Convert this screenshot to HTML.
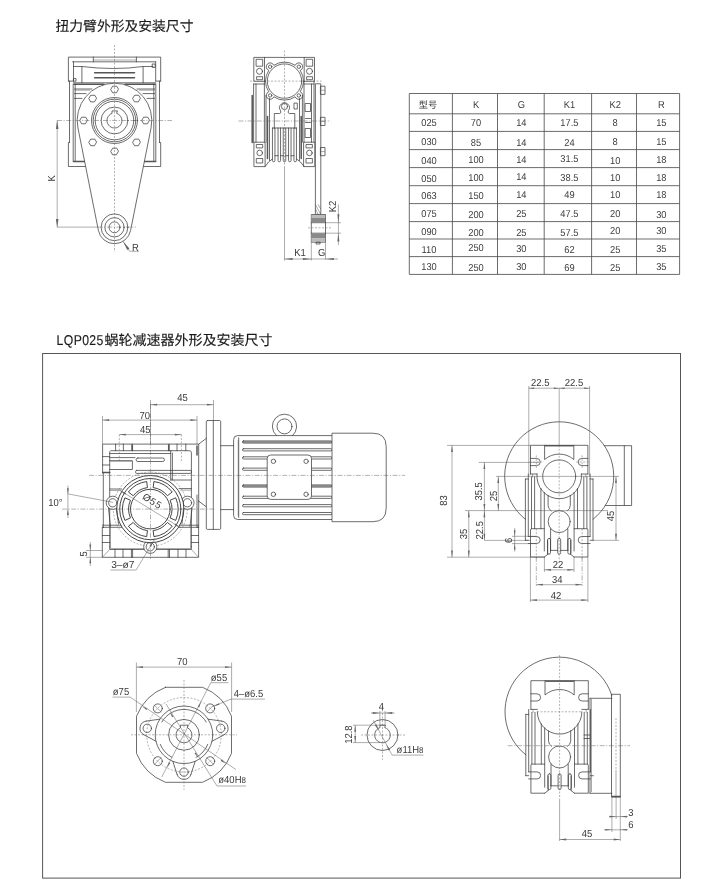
<!DOCTYPE html>
<html lang="zh"><head><meta charset="utf-8"><title>LQP025 蜗轮减速器外形及安装尺寸</title>
<style>
html,body{margin:0;padding:0;background:#fff;}
body{width:715px;height:891px;overflow:hidden;position:relative;}
svg{display:block;position:absolute;left:0;top:0;will-change:transform;transform:translateZ(0);}
text{font-family:"Liberation Sans","Noto Sans CJK SC",sans-serif;text-rendering:geometricPrecision;}
.ti{fill:#1a1a1a;stroke:#1a1a1a;stroke-width:0.15;font-family:"Liberation Sans","Noto Sans CJK SC",sans-serif;font-weight:400;}
.tt{fill:#3c3c3c;}
.dt{fill:#3a3a3a;}
.fr{fill:none;stroke:#555;stroke-width:1;}
.tb{stroke:#505050;stroke-width:0.85;fill:none;}
.o{fill:none;stroke:#3c3c3c;stroke-width:0.75;stroke-linejoin:round;stroke-linecap:round;}
.w{fill:#fff;stroke:#3c3c3c;stroke-width:0.75;stroke-linejoin:round;}
.sl{fill:none;stroke:#3c3c3c;stroke-width:0.75;stroke-linejoin:round;}
.k2{fill:none;stroke:#444;stroke-width:1.2;}
.h2{fill:none;stroke:none;}
.o2{stroke-width:0.95;}
.k{fill:none;stroke:#555;stroke-width:1.5;stroke-linecap:round;}
.t{fill:none;stroke:#555;stroke-width:0.5;}
.c{fill:none;stroke:#666;stroke-width:0.5;stroke-dasharray:5 1.5 1.2 1.5;}
.h{fill:none;stroke:#666;stroke-width:0.5;stroke-dasharray:2 1.5;}
.d{fill:none;stroke:#5a5a5a;stroke-width:0.5;}
.ah{fill:#666;stroke:none;}
.g{fill:#999;stroke:none;}
</style></head><body>
<svg width="715" height="891" viewBox="0 0 715 891">
<rect x="0" y="0" width="715" height="891" fill="#fff"/>
<g id="text-and-table">
<text class="ti" x="55.5" y="31.4" font-size="13.8">扭力臂外形及安装尺寸</text>
<text class="ti" transform="translate(56.6 345) scale(0.86 1)" font-size="14.2" letter-spacing="0.45">LQP025</text>
<text class="ti" x="104.6" y="345.2" font-size="14">蜗轮减速器外形及安装尺寸</text>
<rect class="fr" x="42.6" y="353.5" width="637.9" height="524.6"/>
<line class="tb" x1="409.3" y1="93.5" x2="409.3" y2="274.4"/>
<line class="tb" x1="452.4" y1="93.5" x2="452.4" y2="274.4"/>
<line class="tb" x1="497.5" y1="93.5" x2="497.5" y2="274.4"/>
<line class="tb" x1="544.2" y1="93.5" x2="544.2" y2="274.4"/>
<line class="tb" x1="591.6" y1="93.5" x2="591.6" y2="274.4"/>
<line class="tb" x1="636.5" y1="93.5" x2="636.5" y2="274.4"/>
<line class="tb" x1="679.6" y1="93.5" x2="679.6" y2="274.4"/>
<line class="tb" x1="409.3" y1="93.5" x2="679.6" y2="93.5"/>
<line class="tb" x1="409.3" y1="113.8" x2="679.6" y2="113.8"/>
<line class="tb" x1="409.3" y1="131.4" x2="679.6" y2="131.4"/>
<line class="tb" x1="409.3" y1="149.6" x2="679.6" y2="149.6"/>
<line class="tb" x1="409.3" y1="167.6" x2="679.6" y2="167.6"/>
<line class="tb" x1="409.3" y1="185.7" x2="679.6" y2="185.7"/>
<line class="tb" x1="409.3" y1="203.6" x2="679.6" y2="203.6"/>
<line class="tb" x1="409.3" y1="221.6" x2="679.6" y2="221.6"/>
<line class="tb" x1="409.3" y1="239" x2="679.6" y2="239"/>
<line class="tb" x1="409.3" y1="256.6" x2="679.6" y2="256.6"/>
<line class="tb" x1="409.3" y1="274.4" x2="679.6" y2="274.4"/>
<text class="tt" transform="translate(428 108.3)" font-size="9.2" text-anchor="middle">型号</text>
<text class="tt" transform="translate(476 108) scale(0.93 1)" font-size="10" text-anchor="middle">K</text>
<text class="tt" transform="translate(521.3 108) scale(0.93 1)" font-size="10" text-anchor="middle">G</text>
<text class="tt" transform="translate(569.4 108) scale(0.93 1)" font-size="10" text-anchor="middle">K1</text>
<text class="tt" transform="translate(615.2 108) scale(0.93 1)" font-size="10" text-anchor="middle">K2</text>
<text class="tt" transform="translate(661.3 108) scale(0.93 1)" font-size="10" text-anchor="middle">R</text>
<text class="tt" transform="translate(429 126.2) scale(0.93 1)" font-size="10" text-anchor="middle">025</text>
<text class="tt" transform="translate(476 126.2) scale(0.93 1)" font-size="10" text-anchor="middle">70</text>
<text class="tt" transform="translate(521.3 126.2) scale(0.93 1)" font-size="10" text-anchor="middle">14</text>
<text class="tt" transform="translate(569.4 126.2) scale(0.93 1)" font-size="10" text-anchor="middle">17.5</text>
<text class="tt" transform="translate(615.2 126.2) scale(0.93 1)" font-size="10" text-anchor="middle">8</text>
<text class="tt" transform="translate(661.3 126.2) scale(0.93 1)" font-size="10" text-anchor="middle">15</text>
<text class="tt" transform="translate(429 145.4) scale(0.93 1)" font-size="10" text-anchor="middle">030</text>
<text class="tt" transform="translate(476 146.2) scale(0.93 1)" font-size="10" text-anchor="middle">85</text>
<text class="tt" transform="translate(521.3 145.8) scale(0.93 1)" font-size="10" text-anchor="middle">14</text>
<text class="tt" transform="translate(569.4 145.8) scale(0.93 1)" font-size="10" text-anchor="middle">24</text>
<text class="tt" transform="translate(615.2 145.4) scale(0.93 1)" font-size="10" text-anchor="middle">8</text>
<text class="tt" transform="translate(661.3 145.4) scale(0.93 1)" font-size="10" text-anchor="middle">15</text>
<text class="tt" transform="translate(429 163.7) scale(0.93 1)" font-size="10" text-anchor="middle">040</text>
<text class="tt" transform="translate(476 163.3) scale(0.93 1)" font-size="10" text-anchor="middle">100</text>
<text class="tt" transform="translate(521.3 163.3) scale(0.93 1)" font-size="10" text-anchor="middle">14</text>
<text class="tt" transform="translate(569.4 162.3) scale(0.93 1)" font-size="10" text-anchor="middle">31.5</text>
<text class="tt" transform="translate(615.2 163.7) scale(0.93 1)" font-size="10" text-anchor="middle">10</text>
<text class="tt" transform="translate(661.3 163.3) scale(0.93 1)" font-size="10" text-anchor="middle">18</text>
<text class="tt" transform="translate(429 181.5) scale(0.93 1)" font-size="10" text-anchor="middle">050</text>
<text class="tt" transform="translate(476 180.9) scale(0.93 1)" font-size="10" text-anchor="middle">100</text>
<text class="tt" transform="translate(521.3 180.3) scale(0.93 1)" font-size="10" text-anchor="middle">14</text>
<text class="tt" transform="translate(569.4 180.5) scale(0.93 1)" font-size="10" text-anchor="middle">38.5</text>
<text class="tt" transform="translate(615.2 181.3) scale(0.93 1)" font-size="10" text-anchor="middle">10</text>
<text class="tt" transform="translate(661.3 181.3) scale(0.93 1)" font-size="10" text-anchor="middle">18</text>
<text class="tt" transform="translate(429 198.9) scale(0.93 1)" font-size="10" text-anchor="middle">063</text>
<text class="tt" transform="translate(476 198.9) scale(0.93 1)" font-size="10" text-anchor="middle">150</text>
<text class="tt" transform="translate(521.3 197.8) scale(0.93 1)" font-size="10" text-anchor="middle">14</text>
<text class="tt" transform="translate(569.4 197.8) scale(0.93 1)" font-size="10" text-anchor="middle">49</text>
<text class="tt" transform="translate(615.2 198.2) scale(0.93 1)" font-size="10" text-anchor="middle">10</text>
<text class="tt" transform="translate(661.3 197.8) scale(0.93 1)" font-size="10" text-anchor="middle">18</text>
<text class="tt" transform="translate(429 217.1) scale(0.93 1)" font-size="10" text-anchor="middle">075</text>
<text class="tt" transform="translate(476 217.5) scale(0.93 1)" font-size="10" text-anchor="middle">200</text>
<text class="tt" transform="translate(521.3 217.1) scale(0.93 1)" font-size="10" text-anchor="middle">25</text>
<text class="tt" transform="translate(569.4 216.5) scale(0.93 1)" font-size="10" text-anchor="middle">47.5</text>
<text class="tt" transform="translate(615.2 216.5) scale(0.93 1)" font-size="10" text-anchor="middle">20</text>
<text class="tt" transform="translate(661.3 217.5) scale(0.93 1)" font-size="10" text-anchor="middle">30</text>
<text class="tt" transform="translate(429 234.8) scale(0.93 1)" font-size="10" text-anchor="middle">090</text>
<text class="tt" transform="translate(476 236) scale(0.93 1)" font-size="10" text-anchor="middle">200</text>
<text class="tt" transform="translate(521.3 235.8) scale(0.93 1)" font-size="10" text-anchor="middle">25</text>
<text class="tt" transform="translate(569.4 236) scale(0.93 1)" font-size="10" text-anchor="middle">57.5</text>
<text class="tt" transform="translate(615.2 234.4) scale(0.93 1)" font-size="10" text-anchor="middle">20</text>
<text class="tt" transform="translate(661.3 234.4) scale(0.93 1)" font-size="10" text-anchor="middle">30</text>
<text class="tt" transform="translate(429 252.6) scale(0.93 1)" font-size="10" text-anchor="middle">110</text>
<text class="tt" transform="translate(476 251) scale(0.93 1)" font-size="10" text-anchor="middle">250</text>
<text class="tt" transform="translate(521.3 252) scale(0.93 1)" font-size="10" text-anchor="middle">30</text>
<text class="tt" transform="translate(569.4 252.6) scale(0.93 1)" font-size="10" text-anchor="middle">62</text>
<text class="tt" transform="translate(615.2 252.6) scale(0.93 1)" font-size="10" text-anchor="middle">25</text>
<text class="tt" transform="translate(661.3 251.6) scale(0.93 1)" font-size="10" text-anchor="middle">35</text>
<text class="tt" transform="translate(429 270.2) scale(0.93 1)" font-size="10" text-anchor="middle">130</text>
<text class="tt" transform="translate(476 270.6) scale(0.93 1)" font-size="10" text-anchor="middle">250</text>
<text class="tt" transform="translate(521.3 269.8) scale(0.93 1)" font-size="10" text-anchor="middle">30</text>
<text class="tt" transform="translate(569.4 270.6) scale(0.93 1)" font-size="10" text-anchor="middle">69</text>
<text class="tt" transform="translate(615.2 270.6) scale(0.93 1)" font-size="10" text-anchor="middle">25</text>
<text class="tt" transform="translate(661.3 269.8) scale(0.93 1)" font-size="10" text-anchor="middle">35</text>
</g>
<g id="drawing-a">
<path class="o" d="M68.4 81.1 L68.4 57.1 L160.7 57.1 L160.7 81.1"/>
<path class="o" d="M93.3 57.1 L93.3 61.8"/>
<path class="o" d="M136.4 57.1 L136.4 61.8"/>
<line class="o" x1="72.6" y1="61.8" x2="155.7" y2="61.8"/>
<line class="t" x1="93.3" y1="60" x2="136.4" y2="60"/>
<line class="o" x1="73.5" y1="61.8" x2="73.5" y2="81.1"/>
<line class="o" x1="155.7" y1="61.8" x2="155.7" y2="81.1"/>
<line class="o" x1="68.4" y1="81.1" x2="73.5" y2="81.1"/>
<line class="o" x1="155.7" y1="81.1" x2="160.7" y2="81.1"/>
<path class="o" d="M73.5 66.5 L81.9 66.5 Q114.5 70.5 143.1 66.5 L153 66.5"/>
<line class="o" x1="81.9" y1="66.5" x2="81.9" y2="82.8"/>
<line class="o" x1="143.1" y1="66.5" x2="143.1" y2="82.8"/>
<rect class="o" x="152.6" y="64" width="2.6" height="3.4"/>
<rect class="o" x="73.8" y="78.6" width="2.2" height="2.6"/>
<line class="k" x1="94.6" y1="72.7" x2="134.5" y2="72.7"/>
<line class="k" x1="94.6" y1="77.7" x2="134.5" y2="77.7"/>
<line class="o" x1="73.5" y1="82.8" x2="155.7" y2="82.8"/>
<line class="k" x1="74" y1="84.2" x2="104" y2="84.2"/>
<line class="k" x1="125" y1="84.2" x2="155" y2="84.2"/>
<line class="o" x1="69.5" y1="81.1" x2="69.5" y2="142.5"/>
<line class="o" x1="159.5" y1="81.1" x2="159.5" y2="142.5"/>
<line class="o" x1="73.2" y1="84" x2="73.2" y2="161"/>
<line class="o" x1="75.2" y1="84" x2="75.2" y2="161"/>
<line class="o" x1="155.8" y1="84" x2="155.8" y2="161"/>
<line class="o" x1="153.8" y1="84" x2="153.8" y2="161"/>
<line class="o" x1="74.5" y1="89" x2="92" y2="89"/>
<line class="o" x1="154.6" y1="89" x2="137" y2="89"/>
<line class="o" x1="74.5" y1="93.6" x2="86" y2="93.6"/>
<line class="o" x1="154.6" y1="93.6" x2="143" y2="93.6"/>
<line class="o" x1="74.5" y1="98.4" x2="82" y2="98.4"/>
<line class="o" x1="154.6" y1="98.4" x2="147" y2="98.4"/>
<line class="t" x1="74.5" y1="90.2" x2="90" y2="90.2"/>
<line class="t" x1="154.6" y1="90.2" x2="139" y2="90.2"/>
<path class="o" d="M69.5 142.5 L68.4 142.5 L68.4 166.5 L86 166.5"/>
<path class="o" d="M159.5 142.5 L160.7 142.5 L160.7 166.5 L143 166.5"/>
<line class="k" x1="73.5" y1="161.6" x2="85" y2="161.6"/>
<line class="k" x1="155.7" y1="161.6" x2="144" y2="161.6"/>
<path class="w" d="M77.92 127.8 A37.3 37.3 0 1 1 151.08 127.8 L130.58 230.51 A16.4 16.4 0 0 1 98.42 230.51 Z"/>
<path class="o" d="M149.3 120.5 L147.4 123.79 L143.6 123.79 L141.7 120.5 L143.6 117.21 L147.4 117.21 Z"/>
<path class="o" d="M140.22 142.42 L138.32 145.71 L134.52 145.71 L132.62 142.42 L134.52 139.13 L138.32 139.13 Z"/>
<path class="o" d="M118.3 151.5 L116.4 154.79 L112.6 154.79 L110.7 151.5 L112.6 148.21 L116.4 148.21 Z"/>
<path class="o" d="M96.38 142.42 L94.48 145.71 L90.68 145.71 L88.78 142.42 L90.68 139.13 L94.48 139.13 Z"/>
<path class="o" d="M87.3 120.5 L85.4 123.79 L81.6 123.79 L79.7 120.5 L81.6 117.21 L85.4 117.21 Z"/>
<path class="o" d="M96.38 98.58 L94.48 101.87 L90.68 101.87 L88.78 98.58 L90.68 95.29 L94.48 95.29 Z"/>
<path class="o" d="M118.3 89.5 L116.4 92.79 L112.6 92.79 L110.7 89.5 L112.6 86.21 L116.4 86.21 Z"/>
<path class="o" d="M140.22 98.58 L138.32 101.87 L134.52 101.87 L132.62 98.58 L134.52 95.29 L138.32 95.29 Z"/>
<circle class="o" cx="114.5" cy="120.5" r="23"/>
<circle class="o" cx="114.5" cy="120.5" r="21.3"/>
<circle class="o" cx="114.5" cy="120.5" r="19.3"/>
<circle class="o" cx="114.5" cy="120.5" r="13.4"/>
<path class="o" d="M117 113.43 A7.5 7.5 0 1 1 112 113.43 L112 110.9 L117 110.9 Z"/>
<circle class="o" cx="114.5" cy="227.3" r="13.4"/>
<circle class="o" cx="114.5" cy="227.3" r="9.65"/>
<circle class="o" cx="114.5" cy="227.3" r="5.45"/>
<line class="h" x1="114.5" y1="45" x2="114.5" y2="252"/>
<line class="c" x1="57" y1="120.5" x2="172" y2="120.5"/>
<line class="d" x1="57" y1="227.1" x2="98" y2="227.1"/>
<line class="c" x1="98" y1="227.1" x2="136" y2="227.1"/>
<line class="d" x1="57.2" y1="120.5" x2="57.2" y2="227.3"/>
<polygon class="ah" points="57.2,120.5 58.5,128.9 55.9,128.9"/>
<polygon class="ah" points="57.2,227.3 55.9,218.9 58.5,218.9"/>
<text class="dt" transform="translate(55 178.3) rotate(-90) scale(0.93 1)" font-size="10.2" text-anchor="middle">K</text>
<path class="d" d="M123 241.3 L129.7 251.3 L139 251.3"/>
<polygon class="ah" points="123,241.3 129.42,248.55 127.26,250"/>
<text class="dt" transform="translate(135.4 250.6) scale(0.93 1)" font-size="10.2" text-anchor="middle">R</text>
</g>
<g id="drawing-b" transform="translate(0 0.5)">
<rect class="o" x="254.2" y="56.9" width="60.3" height="23.9"/>
<line class="o" x1="264.5" y1="56.9" x2="264.5" y2="80.8"/>
<line class="o" x1="304.2" y1="56.9" x2="304.2" y2="80.8"/>
<rect class="o" x="256.5" y="58.8" width="6.2" height="6.9"/>
<circle class="o" cx="259.5" cy="70.8" r="3"/>
<rect class="o" x="257" y="76.2" width="5.6" height="3"/>
<rect class="o" x="306.5" y="58.8" width="6.2" height="6.9"/>
<circle class="o" cx="309.5" cy="70.8" r="3"/>
<rect class="o" x="307" y="76.2" width="5.6" height="3"/>
<path class="w" d="M300.21 91.29 A3.9 3.9 0 1 1 295.19 96.31 A19 19 0 0 1 273.81 96.31 A3.9 3.9 0 1 1 268.79 91.29 A19 19 0 0 1 268.79 69.91 A3.9 3.9 0 1 1 273.81 64.89 A19 19 0 0 1 295.19 64.89 A3.9 3.9 0 1 1 300.21 69.91 A19 19 0 0 1 300.21 91.29 Z"/>
<circle class="o" cx="270.15" cy="66.25" r="1.7"/>
<circle class="o" cx="270.15" cy="94.95" r="1.7"/>
<circle class="o" cx="298.85" cy="66.25" r="1.7"/>
<circle class="o" cx="298.85" cy="94.95" r="1.7"/>
<circle class="o" cx="284.5" cy="80.6" r="17.2"/>
<line class="o" x1="253.6" y1="83.5" x2="253.6" y2="141.7"/>
<line class="o" x1="256" y1="83.5" x2="256" y2="141.7"/>
<line class="o" x1="253.6" y1="83.5" x2="264.4" y2="83.5"/>
<line class="k" x1="252.2" y1="95" x2="252.2" y2="142"/>
<line class="o" x1="264.4" y1="80.6" x2="264.4" y2="141.7"/>
<line class="o" x1="266" y1="95" x2="266" y2="141.7"/>
<line class="o" x1="304" y1="80.6" x2="304" y2="141.7"/>
<line class="o" x1="302.4" y1="95" x2="302.4" y2="141.7"/>
<line class="o" x1="314" y1="80.6" x2="314" y2="141.7"/>
<line class="o" x1="311.5" y1="83.5" x2="311.5" y2="141.7"/>
<line class="o" x1="304" y1="83.5" x2="314" y2="83.5"/>
<line class="o" x1="269.5" y1="98" x2="269.5" y2="160"/>
<line class="o" x1="299.5" y1="98" x2="299.5" y2="160"/>
<line class="k" x1="267.5" y1="116" x2="267.5" y2="158"/>
<line class="k" x1="301.2" y1="116" x2="301.2" y2="158"/>
<path class="o" d="M274.3 128 L274.3 113 L279.5 113 Q281.5 113 280.6 110.2 A4.9 4.9 0 1 1 288.4 110.2 Q287.5 113 289.5 113 L294.8 113 L294.8 128"/>
<circle class="o" cx="284.5" cy="106" r="3.1"/>
<rect class="o" x="294.4" y="102.6" width="2.9" height="5.9"/>
<rect class="o" x="305.5" y="103" width="5" height="8"/>
<rect class="o" x="305.5" y="128" width="5" height="9"/>
<line class="o" x1="305.5" y1="118" x2="310.5" y2="118"/>
<line class="o" x1="305.5" y1="122" x2="310.5" y2="122"/>
<line class="o" x1="272.4" y1="127.5" x2="296.6" y2="127.5"/>
<path class="o" d="M272.45 127.5 L272.45 160 A1.25 1.25 0 0 0 274.95 160 L274.95 127.5"/>
<path class="o" d="M278.05 127.5 L278.05 160 A1.25 1.25 0 0 0 280.55 160 L280.55 127.5"/>
<path class="o" d="M283.25 127.5 L283.25 160 A1.25 1.25 0 0 0 285.75 160 L285.75 127.5"/>
<path class="o" d="M288.55 127.5 L288.55 160 A1.25 1.25 0 0 0 291.05 160 L291.05 127.5"/>
<path class="o" d="M293.95 127.5 L293.95 160 A1.25 1.25 0 0 0 296.45 160 L296.45 127.5"/>
<line class="o" x1="274.95" y1="155.2" x2="278.05" y2="155.2"/>
<line class="o" x1="280.55" y1="155.2" x2="283.25" y2="155.2"/>
<line class="o" x1="285.75" y1="155.2" x2="288.55" y2="155.2"/>
<line class="o" x1="291.05" y1="155.2" x2="293.95" y2="155.2"/>
<rect class="o" x="254.3" y="141.7" width="10.8" height="24.4"/>
<rect class="o" x="256.7" y="144" width="6" height="3.4"/>
<circle class="o" cx="259.7" cy="152.4" r="2.8"/>
<rect class="o" x="256.7" y="158" width="6" height="4.5"/>
<rect class="o" x="304" y="141.7" width="10.8" height="24.4"/>
<rect class="o" x="306.4" y="144" width="6" height="3.4"/>
<circle class="o" cx="309.4" cy="152.4" r="2.8"/>
<rect class="o" x="306.4" y="158" width="6" height="4.5"/>
<path class="o" d="M265.1 166.1 L268.5 161.5 L272.4 158.5"/>
<path class="o" d="M304 166.1 L300.5 161.5 L296.6 158.5"/>
<rect class="w" x="315.4" y="83.3" width="5.4" height="130.6"/>
<rect class="o" x="320.8" y="85.7" width="4.2" height="8.2"/>
<line class="t" x1="320.8" y1="89.8" x2="325" y2="89.8"/>
<rect class="o" x="320.8" y="116.8" width="4.2" height="8.2"/>
<line class="t" x1="320.8" y1="120.9" x2="325" y2="120.9"/>
<rect class="o" x="320.8" y="147" width="4.2" height="8.2"/>
<line class="t" x1="320.8" y1="151.1" x2="325" y2="151.1"/>
<path class="t" d="M315.4 204 L320.8 213.9"/>
<path class="t" d="M315.4 208 L318 213.9"/>
<path class="t" d="M318 204 L320.8 208.5"/>
<rect class="w" x="311.3" y="214" width="14.2" height="27.7"/>
<line class="o" x1="311.3" y1="222.2" x2="325.5" y2="222.2"/>
<line class="o" x1="311.3" y1="232.7" x2="325.5" y2="232.7"/>
<rect x="311.6" y="214.4" width="13.6" height="3" fill="#bbb"/>
<rect x="311.6" y="217.4" width="13.6" height="4.6" fill="#8a8a8a"/>
<rect x="311.6" y="233" width="13.6" height="4.6" fill="#8a8a8a"/>
<rect x="311.6" y="237.6" width="13.6" height="3.8" fill="#bbb"/>
<rect class="o" x="316.5" y="241.7" width="3.6" height="1.8"/>
<line class="h" x1="308" y1="227.3" x2="331" y2="227.3"/>
<line class="h" x1="284.5" y1="50" x2="284.5" y2="166"/>
<line class="d" x1="284.5" y1="166" x2="284.5" y2="260"/>
<line class="h" x1="250" y1="80.6" x2="321.5" y2="80.6"/>
<line class="c" x1="238.4" y1="120.5" x2="330.7" y2="120.5"/>
<line class="d" x1="325.5" y1="222.2" x2="341" y2="222.2"/>
<line class="d" x1="325.5" y1="232.7" x2="341" y2="232.7"/>
<line class="d" x1="338.4" y1="204" x2="338.4" y2="244.5"/>
<polygon class="ah" points="338.4,222.2 337.4,213.8 339.4,213.8"/>
<polygon class="ah" points="338.4,232.7 339.4,241.1 337.4,241.1"/>
<text class="dt" transform="translate(336 206) rotate(-90) scale(0.93 1)" font-size="10.2" text-anchor="middle">K2</text>
<line class="d" x1="311.3" y1="241.7" x2="311.3" y2="260"/>
<line class="d" x1="325.5" y1="241.7" x2="325.5" y2="259"/>
<line class="d" x1="284.3" y1="258.5" x2="338" y2="258.5"/>
<polygon class="ah" points="284.3,258.5 292.7,257.5 292.7,259.5"/>
<polygon class="ah" points="311.3,258.5 302.9,259.5 302.9,257.5"/>
<polygon class="ah" points="325.5,258.5 333.9,257.5 333.9,259.5"/>
<text class="dt" transform="translate(300 255) scale(0.93 1)" font-size="10.2" text-anchor="middle">K1</text>
<text class="dt" transform="translate(321.6 255) scale(0.93 1)" font-size="10.2" text-anchor="middle">G</text>
</g>
<g id="drawing-c">
<path class="o" d="M102.6 473 L102.6 444.1 L198.7 444.1 L198.7 501.2"/>
<line class="o" x1="103.3" y1="473" x2="103.3" y2="527.3"/>
<line class="o" x1="102.6" y1="456.6" x2="109.7" y2="456.6"/>
<line class="o" x1="102.6" y1="465" x2="109.7" y2="465"/>
<line class="k" x1="102.6" y1="472.6" x2="109.7" y2="472.6"/>
<line class="o" x1="115.6" y1="444.1" x2="115.6" y2="450.7"/>
<line class="o" x1="123.4" y1="444.1" x2="123.4" y2="450.7"/>
<line class="o" x1="132" y1="444.1" x2="132" y2="450.7"/>
<line class="o" x1="169" y1="444.1" x2="169" y2="450.7"/>
<line class="o" x1="177" y1="444.1" x2="177" y2="450.7"/>
<line class="o" x1="185.8" y1="444.1" x2="185.8" y2="450.7"/>
<line class="k" x1="132.3" y1="445" x2="132.3" y2="450.5"/>
<line class="k" x1="168.7" y1="445" x2="168.7" y2="450.5"/>
<path class="o" d="M109.7 546.8 L109.7 451.7 L110.7 450.7 L171 450.7"/>
<line class="o" x1="109.7" y1="453.5" x2="170.7" y2="453.5"/>
<line class="o" x1="109.7" y1="457.6" x2="135" y2="457.6"/>
<rect class="o" x="136.1" y="458" width="28.4" height="3.5" rx="1.75"/>
<path class="o" d="M109.7 460.7 L132.4 460.7 L132.4 469.5 L109.7 469.5"/>
<line class="t" x1="110" y1="461.2" x2="132" y2="461.2"/>
<rect class="o" x="135.6" y="470.4" width="55.8" height="3" rx="1"/>
<path class="o" d="M170.7 480 L170.7 450.7 L189.4 450.7 Q191.4 450.7 191.4 452.7 L191.4 546.8"/>
<line class="o" x1="172.4" y1="453" x2="172.4" y2="480"/>
<line class="o" x1="170.7" y1="480" x2="191.4" y2="480"/>
<line class="k" x1="197" y1="446" x2="197" y2="455"/>
<line class="o" x1="197" y1="495" x2="197" y2="527"/>
<line class="o" x1="109.7" y1="489" x2="121.6" y2="489"/>
<line class="o" x1="179" y1="488.6" x2="191.4" y2="488.6"/>
<line class="t" x1="109.7" y1="490.5" x2="120.4" y2="490.5"/>
<line class="t" x1="180.2" y1="490.2" x2="191.4" y2="490.2"/>
<path class="o" d="M103.3 527.3 L102.3 527.3 L102.3 557.3 L198.6 557.3 L198.6 527.3 L197 527.3"/>
<line class="o" x1="102.3" y1="525.2" x2="122.5" y2="525.2"/>
<line class="o" x1="178" y1="525.2" x2="198.6" y2="525.2"/>
<line class="o" x1="102.3" y1="527.3" x2="125" y2="527.3"/>
<line class="o" x1="175.6" y1="527.3" x2="198.6" y2="527.3"/>
<path class="o" d="M109.7 546.8 L109.7 549.5 L191.4 549.5 L191.4 546.8"/>
<path class="t" d="M102.3 557.3 L109.7 549.5"/>
<path class="t" d="M198.6 557.3 L191.4 549.5"/>
<path class="t" d="M110.5 528 L110.5 548.5 L190.6 548.5 L190.6 528"/>
<line class="o" x1="115" y1="549.5" x2="115" y2="557.3"/>
<line class="o" x1="123" y1="549.5" x2="123" y2="557.3"/>
<line class="o" x1="131.4" y1="549.5" x2="131.4" y2="557.3"/>
<line class="o" x1="132.6" y1="549.5" x2="132.6" y2="557.3"/>
<line class="o" x1="168.2" y1="549.5" x2="168.2" y2="557.3"/>
<line class="o" x1="169.5" y1="549.5" x2="169.5" y2="557.3"/>
<line class="o" x1="178" y1="549.5" x2="178" y2="557.3"/>
<line class="o" x1="186" y1="549.5" x2="186" y2="557.3"/>
<line class="o" x1="102.3" y1="535.5" x2="109.7" y2="535.5"/>
<line class="o" x1="191.4" y1="535.5" x2="198.6" y2="535.5"/>
<line class="o" x1="102.3" y1="542.5" x2="109.7" y2="542.5"/>
<line class="o" x1="191.4" y1="542.5" x2="198.6" y2="542.5"/>
<circle class="h" cx="150.3" cy="509.1" r="37"/>
<circle class="w" cx="112.8" cy="502.8" r="6.6"/>
<circle class="w" cx="187.5" cy="502.8" r="6.6"/>
<circle class="w" cx="150.3" cy="546.8" r="6.6"/>
<circle class="w o2" cx="150.3" cy="509.1" r="33.6"/>
<circle class="o" cx="112.8" cy="502.8" r="4.1"/>
<circle class="o" cx="187.5" cy="502.8" r="4.1"/>
<circle class="o" cx="150.3" cy="546.8" r="4.1"/>
<circle class="o o2" cx="150.3" cy="509.1" r="30.6"/>
<circle class="o o2" cx="150.3" cy="509.1" r="19.8"/>
<path class="sl o2" d="M175.7 497.79 A27.8 27.8 0 0 1 175.7 520.41 L170.12 517.93 A21.7 21.7 0 0 0 170.12 500.27 Z"/>
<path class="sl o2" d="M172.21 526.22 A27.8 27.8 0 0 1 153.93 536.66 L153.13 530.61 A21.7 21.7 0 0 0 167.4 522.46 Z"/>
<path class="sl o2" d="M146.67 536.66 A27.8 27.8 0 0 1 128.39 526.22 L133.2 522.46 A21.7 21.7 0 0 0 147.47 530.61 Z"/>
<path class="sl o2" d="M124.9 520.41 A27.8 27.8 0 0 1 124.9 497.79 L130.48 500.27 A21.7 21.7 0 0 0 130.48 517.93 Z"/>
<path class="sl o2" d="M128.39 491.98 A27.8 27.8 0 0 1 146.67 481.54 L147.47 487.59 A21.7 21.7 0 0 0 133.2 495.74 Z"/>
<path class="sl o2" d="M153.93 481.54 A27.8 27.8 0 0 1 172.21 491.98 L167.4 495.74 A21.7 21.7 0 0 0 153.13 487.59 Z"/>
<line class="o" x1="108.5" y1="508" x2="110.5" y2="527"/>
<line class="o" x1="116.5" y1="508.5" x2="118.5" y2="524"/>
<line class="o" x1="192" y1="508" x2="190" y2="527"/>
<line class="o" x1="183.5" y1="508.5" x2="182" y2="524"/>
<path class="o" d="M198.7 444.1 L206.3 438.4"/>
<path class="o" d="M198.7 501.2 L206.3 506.8"/>
<line class="o" x1="198.7" y1="501.2" x2="198.7" y2="527.3"/>
<rect class="o" x="206.3" y="420.5" width="14.4" height="108.9" rx="1.2"/>
<line class="o" x1="213.3" y1="420.5" x2="213.3" y2="529.4"/>
<line class="o" x1="220.7" y1="445.7" x2="233.6" y2="445.7"/>
<line class="o" x1="220.7" y1="509.6" x2="233.6" y2="509.6"/>
<path class="o" d="M332 435.6 L237.6 435.6 Q233.6 435.6 233.6 439.6 L233.6 515.5 Q233.6 519.5 237.6 519.5 L332 519.5"/>
<line class="o" x1="238.7" y1="437.8" x2="238.7" y2="517.4"/>
<line class="t" x1="238.2" y1="440" x2="238.2" y2="516"/>
<rect class="o" x="242.4" y="440.9" width="89.6" height="2.2" rx="1.1" style="fill:#aaa"/>
<rect class="o" x="242.4" y="448.7" width="89.6" height="2.2" rx="1.1"/>
<rect class="o" x="242.4" y="456.8" width="89.6" height="2.2" rx="1.1"/>
<rect class="o" x="242.4" y="468.1" width="89.6" height="2.2" rx="1.1"/>
<rect class="o" x="242.4" y="484.9" width="89.6" height="2.2" rx="1.1" style="fill:#aaa"/>
<rect class="o" x="242.4" y="496.2" width="89.6" height="2.2" rx="1.1"/>
<rect class="o" x="242.4" y="504.6" width="89.6" height="2.2" rx="1.1"/>
<rect class="o" x="242.4" y="512.5" width="89.6" height="2.2" rx="1.1"/>
<rect class="w" x="267.2" y="455" width="44.3" height="44.4" rx="3.5"/>
<circle class="o" cx="273.4" cy="461.3" r="2.2"/>
<circle class="o" cx="273.4" cy="494.3" r="2.2"/>
<circle class="o" cx="306.1" cy="461.3" r="2.2"/>
<circle class="o" cx="306.1" cy="494.3" r="2.2"/>
<path class="o" d="M276.48 435.59 A12.2 12.2 0 1 1 292.52 435.59"/>
<circle class="o" cx="284.5" cy="426.4" r="7.5"/>
<path class="w" d="M332 433.2 L372.8 433.2 Q386.2 433.2 386.2 446.6 L386.2 508.3 Q386.2 521.7 372.8 521.7 L332 521.7 Z"/>
<line class="c" x1="89" y1="475.4" x2="405" y2="475.4"/>
<line class="c" x1="62" y1="509.1" x2="215" y2="509.1"/>
<line class="c" x1="150.5" y1="404" x2="150.5" y2="560"/>
<line class="h" x1="119.3" y1="434.6" x2="119.3" y2="462"/>
<line class="h" x1="181.4" y1="434.6" x2="181.4" y2="462"/>
<line class="d" x1="102.5" y1="416" x2="102.5" y2="444"/>
<line class="d" x1="197" y1="416" x2="197" y2="444"/>
<line class="d" x1="213.5" y1="400" x2="213.5" y2="420.5"/>
<line class="d" x1="150.5" y1="400" x2="150.5" y2="444"/>
<line class="d" x1="150.5" y1="404.7" x2="213.5" y2="404.7"/>
<polygon class="ah" points="150.5,404.7 157.1,403.8 157.1,405.6"/>
<polygon class="ah" points="213.5,404.7 206.9,405.6 206.9,403.8"/>
<text class="dt" transform="translate(182.4 401.3) scale(0.93 1)" font-size="10.2" text-anchor="middle">45</text>
<line class="d" x1="102.5" y1="420.1" x2="197" y2="420.1"/>
<polygon class="ah" points="102.5,420.1 109.1,419.2 109.1,421"/>
<polygon class="ah" points="197,420.1 190.4,421 190.4,419.2"/>
<text class="dt" transform="translate(144.8 419) scale(0.93 1)" font-size="10.2" text-anchor="middle">70</text>
<line class="d" x1="119.3" y1="434.6" x2="181.4" y2="434.6"/>
<polygon class="ah" points="119.3,434.6 125.9,433.7 125.9,435.5"/>
<polygon class="ah" points="181.4,434.6 174.8,435.5 174.8,433.7"/>
<text class="dt" transform="translate(145.3 432.7) scale(0.93 1)" font-size="10.2" text-anchor="middle">45</text>
<line class="d" x1="120.01" y1="490.39" x2="180.59" y2="527.81"/>
<polygon class="ah" points="120.01,490.39 126.1,493.1 125.15,494.63"/>
<polygon class="ah" points="180.59,527.81 174.5,525.1 175.45,523.57"/>
<text class="dt" transform="translate(150.6 504) rotate(31.7)" font-size="9.8" text-anchor="middle" letter-spacing="0.8">Ø55</text>
<line class="d" x1="67.9" y1="493.9" x2="113.3" y2="502.4"/>
<line class="d" x1="67.9" y1="485.6" x2="67.9" y2="518"/>
<polygon class="ah" points="67.9,494.2 67,488.2 68.8,488.2"/>
<polygon class="ah" points="67.9,509.1 68.8,515.1 67,515.1"/>
<text class="dt" transform="translate(55.5 506) scale(0.93 1)" font-size="10.2" text-anchor="middle">10°</text>
<line class="d" x1="86" y1="550.5" x2="103" y2="550.5"/>
<line class="d" x1="86" y1="557.3" x2="103" y2="557.3"/>
<line class="d" x1="90.3" y1="542" x2="90.3" y2="566"/>
<polygon class="ah" points="90.3,550.5 89.4,544.5 91.2,544.5"/>
<polygon class="ah" points="90.3,557.3 91.2,563.3 89.4,563.3"/>
<text class="dt" transform="translate(86.6 553.9) rotate(-90) scale(0.93 1)" font-size="10.2" text-anchor="middle">5</text>
<path class="d" d="M110.4 570 L136.1 570 L155.2 538.2"/>
<polygon class="ah" points="153.4,541.2 151.08,546.81 149.54,545.88"/>
<text class="dt" transform="translate(122.8 568.4)" font-size="10.2" text-anchor="middle">3–ø7</text>
</g>
<g id="drawing-d">
<path class="o" d="M525.4 519.28 A54.6 54.6 0 1 1 593 519.28"/>
<path class="o" d="M604.4 445.7 L631.6 445.7 L631.6 505.5 L605.4 505.5"/>
<line class="o" x1="624.3" y1="445.7" x2="624.3" y2="505.5"/>
<g>
<path class="o" d="M530.5 474 L530.5 445.3 L587.9 445.3 L587.9 474"/>
<path class="o" d="M544.6 445.3 L544.6 459.54 A22.3 22.3 0 0 1 573.8 459.54 L573.8 445.3"/>
<line class="k2" x1="545" y1="445.8" x2="573.4" y2="445.8"/>
<path class="o" d="M530.5 458.4 L536.6 458.4 A3.6 3.6 0 0 1 536.6 465.6 L530.5 465.6"/>
<line class="h" x1="536.3" y1="455.4" x2="536.3" y2="468.4"/>
<line class="h" x1="542.2" y1="462" x2="528.2" y2="462"/>
<path class="o" d="M587.9 458.4 L581.8 458.4 A3.6 3.6 0 0 0 581.8 465.6 L587.9 465.6"/>
<line class="h" x1="582.1" y1="455.4" x2="582.1" y2="468.4"/>
<line class="h" x1="576.2" y1="462" x2="590.2" y2="462"/>
<path class="o" d="M581.37 474 A22.3 22.3 0 1 1 537.03 474"/>
<circle class="o" cx="559.2" cy="476.4" r="16.5"/>
<path class="o" d="M530.5 474 L537 474"/>
<path class="t" d="M532.6 474 L532.6 477.4"/>
<path class="o" d="M587.9 474 L581.4 474"/>
<path class="t" d="M585.8 474 L585.8 477.4"/>
<line class="o" x1="525.4" y1="479" x2="525.4" y2="540.3"/>
<line class="o" x1="528.3" y1="474" x2="528.3" y2="536.4"/>
<line class="o" x1="531.5" y1="476.9" x2="531.5" y2="528.7"/>
<line class="o" x1="534.6" y1="476.9" x2="534.6" y2="528.7"/>
<line class="o" x1="540.9" y1="488.4" x2="540.9" y2="528.7"/>
<line class="o" x1="544.3" y1="492.4" x2="544.3" y2="551"/>
<path class="o" d="M548.1 495.4 L548.1 505.4 Q548.1 508.9 551.2 510.9"/>
<line class="o" x1="550.6" y1="528.8" x2="550.6" y2="550.4"/>
<line class="o" x1="593" y1="479" x2="593" y2="540.3"/>
<line class="o" x1="590.1" y1="474" x2="590.1" y2="536.4"/>
<line class="o" x1="586.9" y1="476.9" x2="586.9" y2="528.7"/>
<line class="o" x1="583.8" y1="476.9" x2="583.8" y2="528.7"/>
<line class="o" x1="577.5" y1="488.4" x2="577.5" y2="528.7"/>
<line class="o" x1="574.1" y1="492.4" x2="574.1" y2="551"/>
<path class="o" d="M570.3 495.4 L570.3 505.4 Q570.3 508.9 567.2 510.9"/>
<line class="o" x1="567.8" y1="528.8" x2="567.8" y2="550.4"/>
<line class="o" x1="525.4" y1="479" x2="528.3" y2="479"/>
<line class="o" x1="593" y1="479" x2="590.1" y2="479"/>
<circle class="o" cx="559.2" cy="521.6" r="11"/>
<path class="o" d="M544.3 557 L530.5 557 Q530.5 557 530.5 557 L530.5 529.9 Q530.5 528.7 531.7 528.7 L544.3 528.7"/>
<path class="o" d="M528.3 536.5 L536.7 536.5 A3.5 3.5 0 0 1 536.7 543.5 L528.3 543.5"/>
<line class="h" x1="536.3" y1="528.7" x2="536.3" y2="560"/>
<line class="o" x1="525.4" y1="540.3" x2="528.3" y2="540.3"/>
<path class="o" d="M544.3 557 L547.7 554.4"/>
<path class="o" d="M574.1 557 L587.9 557 Q587.9 557 587.9 557 L587.9 529.9 Q587.9 528.7 586.7 528.7 L574.1 528.7"/>
<path class="o" d="M590.1 536.5 L581.7 536.5 A3.5 3.5 0 0 0 581.7 543.5 L590.1 543.5"/>
<line class="h" x1="582.1" y1="528.7" x2="582.1" y2="560"/>
<line class="o" x1="593" y1="540.3" x2="590.1" y2="540.3"/>
<path class="o" d="M574.1 557 L570.7 554.4"/>
<rect class="o" x="547.5" y="538.4" width="3" height="15.8" rx="1.5"/>
<rect class="o" x="557.7" y="538.4" width="3" height="15.8" rx="1.5"/>
<rect class="o" x="567.9" y="538.4" width="3" height="15.8" rx="1.5"/>
<line class="o" x1="550.5" y1="550.4" x2="557.7" y2="550.4"/>
<line class="o" x1="560.7" y1="550.4" x2="567.9" y2="550.4"/>
<line class="o" x1="547.7" y1="554.4" x2="547.7" y2="540.4"/>
<line class="o" x1="570.7" y1="554.4" x2="570.7" y2="540.4"/>
</g>
<line class="d" x1="559.2" y1="388" x2="559.2" y2="445.3"/>
<line class="h" x1="559.2" y1="445.3" x2="559.2" y2="562"/>
<line class="c" x1="536.3" y1="557" x2="536.3" y2="586"/>
<line class="c" x1="582.1" y1="557" x2="582.1" y2="586"/>
<line class="d" x1="528.8" y1="386" x2="528.8" y2="476"/>
<line class="d" x1="589.6" y1="386" x2="589.6" y2="476"/>
<line class="d" x1="528.8" y1="388.2" x2="589.6" y2="388.2"/>
<polygon class="ah" points="528.8,388.2 534.2,387.4 534.2,389"/>
<polygon class="ah" points="559.2,388.2 553.8,389 553.8,387.4"/>
<polygon class="ah" points="559.2,388.2 564.6,387.4 564.6,389"/>
<polygon class="ah" points="589.6,388.2 584.2,389 584.2,387.4"/>
<text class="dt" transform="translate(540.2 385.7) scale(0.93 1)" font-size="10.2" text-anchor="middle">22.5</text>
<text class="dt" transform="translate(574 385.7) scale(0.93 1)" font-size="10.2" text-anchor="middle">22.5</text>
<line class="d" x1="447" y1="445.4" x2="530.3" y2="445.4"/>
<line class="d" x1="447" y1="557.2" x2="545" y2="557.2"/>
<line class="d" x1="452" y1="445.4" x2="452" y2="557.2"/>
<polygon class="ah" points="452,445.4 452.9,452 451.1,452"/>
<polygon class="ah" points="452,557.2 451.1,550.6 452.9,550.6"/>
<text class="dt" transform="translate(446.8 500.4) rotate(-90) scale(0.93 1)" font-size="10.2" text-anchor="middle">83</text>
<line class="d" x1="478.6" y1="462.4" x2="538.8" y2="462.4"/>
<line class="d" x1="496" y1="476.4" x2="619" y2="476.4"/>
<line class="d" x1="465" y1="510.6" x2="608" y2="510.6"/>
<line class="d" x1="484.4" y1="462.4" x2="484.4" y2="510.6"/>
<polygon class="ah" points="484.4,462.4 485.3,469 483.5,469"/>
<polygon class="ah" points="484.4,510.6 483.5,504 485.3,504"/>
<text class="dt" transform="translate(482 491.4) rotate(-90) scale(0.93 1)" font-size="10.2" text-anchor="middle">35.5</text>
<line class="d" x1="498.3" y1="476.4" x2="498.3" y2="510.6"/>
<polygon class="ah" points="498.3,476.4 499.2,483 497.4,483"/>
<polygon class="ah" points="498.3,510.6 497.4,504 499.2,504"/>
<text class="dt" transform="translate(497 496.1) rotate(-90) scale(0.93 1)" font-size="10.2" text-anchor="middle">25</text>
<line class="d" x1="468.8" y1="510.6" x2="468.8" y2="557.2"/>
<polygon class="ah" points="468.8,510.6 469.7,517.2 467.9,517.2"/>
<polygon class="ah" points="468.8,557.2 467.9,550.6 469.7,550.6"/>
<text class="dt" transform="translate(467 533.9) rotate(-90) scale(0.93 1)" font-size="10.2" text-anchor="middle">35</text>
<line class="d" x1="484.4" y1="540.4" x2="530.3" y2="540.4"/>
<line class="d" x1="484.4" y1="510.6" x2="484.4" y2="540.4"/>
<polygon class="ah" points="484.4,510.6 485.3,517.2 483.5,517.2"/>
<polygon class="ah" points="484.4,540.4 483.5,533.8 485.3,533.8"/>
<text class="dt" transform="translate(482.8 530.3) rotate(-90) scale(0.93 1)" font-size="10.2" text-anchor="middle">22.5</text>
<line class="d" x1="512" y1="536.3" x2="536" y2="536.3"/>
<line class="d" x1="512" y1="543.6" x2="536" y2="543.6"/>
<line class="d" x1="514.7" y1="528.1" x2="514.7" y2="551.6"/>
<polygon class="ah" points="514.7,536.3 513.9,530.3 515.5,530.3"/>
<polygon class="ah" points="514.7,543.6 515.5,549.6 513.9,549.6"/>
<text class="dt" transform="translate(512.4 540.3) rotate(-90) scale(0.93 1)" font-size="10.2" text-anchor="middle">6</text>
<line class="d" x1="593" y1="540.3" x2="619" y2="540.3"/>
<line class="d" x1="616" y1="476.4" x2="616" y2="540.3"/>
<polygon class="ah" points="616,476.4 616.9,483 615.1,483"/>
<polygon class="ah" points="616,540.3 615.1,533.7 616.9,533.7"/>
<text class="dt" transform="translate(613.9 516) rotate(-90) scale(0.93 1)" font-size="10.2" text-anchor="middle">45</text>
<line class="d" x1="544.4" y1="557" x2="544.4" y2="572"/>
<line class="d" x1="574" y1="557" x2="574" y2="572"/>
<line class="d" x1="544.4" y1="569.8" x2="574" y2="569.8"/>
<polygon class="ah" points="544.4,569.8 551,568.9 551,570.7"/>
<polygon class="ah" points="574,569.8 567.4,570.7 567.4,568.9"/>
<text class="dt" transform="translate(558 567.7) scale(0.93 1)" font-size="10.2" text-anchor="middle">22</text>
<line class="d" x1="536.3" y1="584.7" x2="582.1" y2="584.7"/>
<polygon class="ah" points="536.3,584.7 542.9,583.8 542.9,585.6"/>
<polygon class="ah" points="582.1,584.7 575.5,585.6 575.5,583.8"/>
<text class="dt" transform="translate(557.2 583.2) scale(0.93 1)" font-size="10.2" text-anchor="middle">34</text>
<line class="d" x1="530.4" y1="557" x2="530.4" y2="602"/>
<line class="d" x1="587.9" y1="557" x2="587.9" y2="602"/>
<line class="d" x1="530.4" y1="600.1" x2="587.9" y2="600.1"/>
<polygon class="ah" points="530.4,600.1 537,599.2 537,601"/>
<polygon class="ah" points="587.9,600.1 581.3,601 581.3,599.2"/>
<text class="dt" transform="translate(556 598.8) scale(0.93 1)" font-size="10.2" text-anchor="middle">42</text>
</g>
<g id="drawing-e">
<path class="o" d="M165.43 687.3 L202.57 687.3 A51 51 0 0 1 231.5 716.23 L231.5 753.37 A51 51 0 0 1 202.57 782.3 L165.43 782.3 A51 51 0 0 1 136.5 753.37 L136.5 716.23 A51 51 0 0 1 165.43 687.3 Z"/>
<circle class="h" cx="184" cy="734.8" r="37.3"/>
<circle class="h2" cx="184" cy="734.8" r="51"/>
<circle class="o" cx="157.8" cy="708.4" r="4.5"/>
<line class="t" x1="161.5" y1="712.3" x2="154" y2="704.8"/>
<circle class="o" cx="157.8" cy="761.2" r="4.5"/>
<line class="t" x1="161.5" y1="757.3" x2="154" y2="764.8"/>
<circle class="o" cx="210.2" cy="708.4" r="4.5"/>
<line class="t" x1="206.5" y1="712.3" x2="214" y2="704.8"/>
<circle class="o" cx="210.2" cy="761.2" r="4.5"/>
<line class="t" x1="206.5" y1="757.3" x2="214" y2="764.8"/>
<circle class="o" cx="184" cy="734.8" r="28.8"/>
<line class="o" x1="221.75" y1="721.09" x2="208.2" y2="719.19"/>
<line class="o" x1="224.16" y1="734.77" x2="212.08" y2="741.19"/>
<path class="o" d="M221.75 721.09 A7.3 7.3 0 0 1 224.16 734.77"/>
<circle class="o" cx="220.73" cy="728.32" r="4.2"/>
<line class="o" x1="143.84" y1="734.77" x2="155.92" y2="741.19"/>
<line class="o" x1="146.25" y1="721.09" x2="159.8" y2="719.19"/>
<path class="o" d="M143.84 734.77 A7.3 7.3 0 0 1 146.25 721.09"/>
<circle class="o" cx="147.27" cy="728.32" r="4.2"/>
<line class="o" x1="190.94" y1="774.36" x2="195.17" y2="761.35"/>
<line class="o" x1="177.06" y1="774.36" x2="172.83" y2="761.35"/>
<path class="o" d="M190.94 774.36 A7.3 7.3 0 0 1 177.06 774.36"/>
<circle class="o" cx="184" cy="772.1" r="4.2"/>
<path class="o" d="M161.83 722 A25.6 25.6 0 0 1 206.17 722"/>
<path class="o" d="M207.74 744.39 A25.6 25.6 0 0 1 196.02 757.4"/>
<path class="o" d="M171.98 757.4 A25.6 25.6 0 0 1 160.26 744.39"/>
<circle class="o" cx="184" cy="734.8" r="15.4"/>
<path class="o" d="M187.6 727.66 A8 8 0 1 1 180.4 727.66 L180.4 725.2 L187.6 725.2 Z"/>
<line class="h" x1="184" y1="680" x2="184" y2="790"/>
<line class="h" x1="131" y1="734.8" x2="237" y2="734.8"/>
<line class="d" x1="136.4" y1="662.5" x2="136.4" y2="712"/>
<line class="d" x1="231.6" y1="662.5" x2="231.6" y2="712"/>
<line class="d" x1="136.4" y1="667.1" x2="231.6" y2="667.1"/>
<polygon class="ah" points="136.4,667.1 143,666.2 143,668"/>
<polygon class="ah" points="231.6,667.1 225,668 225,666.2"/>
<text class="dt" transform="translate(182.3 664.6) scale(0.93 1)" font-size="10.2" text-anchor="middle">70</text>
<line class="d" x1="210.8" y1="682.7" x2="228.5" y2="682.7"/>
<line class="d" x1="210.8" y1="682.7" x2="161.7" y2="777.1"/>
<polygon class="ah" points="201.21,701.71 199.15,707.4 197.73,706.66"/>
<polygon class="ah" points="166.79,767.89 168.85,762.2 170.27,762.94"/>
<text class="dt" transform="translate(219 680.7) scale(0.93 1)" font-size="10.2" text-anchor="middle">ø55</text>
<line class="d" x1="112.6" y1="697.1" x2="130.2" y2="697.1"/>
<line class="d" x1="130.2" y1="697.1" x2="236" y2="769.6"/>
<polygon class="ah" points="141.93,705.97 147.33,708.7 146.43,710.02"/>
<polygon class="ah" points="226.07,763.63 220.67,760.9 221.57,759.58"/>
<text class="dt" transform="translate(121 695.3) scale(0.93 1)" font-size="10.2" text-anchor="middle">ø75</text>
<line class="d" x1="231" y1="699.1" x2="265" y2="699.1"/>
<line class="d" x1="231" y1="699.1" x2="212.5" y2="706.6"/>
<polygon class="ah" points="213.5,706.2 218.76,703.21 219.36,704.69"/>
<text class="dt" transform="translate(248.5 697.3) scale(0.93 1)" font-size="10.2" text-anchor="middle">4–ø6.5</text>
<line class="d" x1="217" y1="786" x2="246" y2="786"/>
<line class="d" x1="217" y1="786" x2="166" y2="704"/>
<polygon class="ah" points="198.37,757.9 194.52,753.22 195.88,752.38"/>
<polygon class="ah" points="169.63,711.7 173.48,716.38 172.12,717.22"/>
<text class="dt" transform="translate(218.3 783.4) scale(0.93 1)" font-size="10.2" text-anchor="start">ø40H<tspan font-size="8.6">8</tspan></text>
</g>
<g id="drawing-f">
<circle class="o" cx="382.5" cy="735" r="15.5"/>
<path class="o" d="M385.1 727.65 A7.8 7.8 0 1 1 379.9 727.65 L379.9 725.2 L385.1 725.2 Z"/>
<line class="h" x1="361" y1="735" x2="406" y2="735"/>
<line class="h" x1="382.5" y1="706" x2="382.5" y2="760"/>
<line class="d" x1="379.9" y1="711" x2="379.9" y2="725.2"/>
<line class="d" x1="385.1" y1="711" x2="385.1" y2="725.2"/>
<line class="d" x1="371" y1="713" x2="394.6" y2="713"/>
<polygon class="ah" points="379.9,713 372.7,713.9 372.7,712.1"/>
<polygon class="ah" points="385.1,713 392.3,712.1 392.3,713.9"/>
<text class="dt" transform="translate(381.3 710.2) scale(0.93 1)" font-size="10.2" text-anchor="middle">4</text>
<line class="d" x1="353" y1="725.2" x2="385" y2="725.2"/>
<line class="d" x1="353" y1="742.6" x2="380" y2="742.6"/>
<line class="d" x1="355.2" y1="725.2" x2="355.2" y2="742.6"/>
<polygon class="ah" points="355.2,725.2 356.1,731.8 354.3,731.8"/>
<polygon class="ah" points="355.2,742.6 354.3,736 356.1,736"/>
<text class="dt" transform="translate(351.5 734.6) rotate(-90) scale(0.93 1)" font-size="10.2" text-anchor="middle">12.8</text>
<path class="d" d="M423.5 755.1 L392.1 755.1 L373.3 720.2"/>
<polygon class="ah" points="378.8,730.6 374.88,725.22 376.46,724.36"/>
<polygon class="ah" points="386.2,744.2 390.12,749.58 388.54,750.44"/>
<text class="dt" transform="translate(396.6 753) scale(0.93 1)" font-size="10.2" text-anchor="start">ø11H<tspan font-size="8.6">8</tspan></text>
</g>
<g id="drawing-g">
<path class="o" d="M525.8 754.81 A54.7 54.7 0 1 1 611.9 695.78"/>
<rect class="o" x="611.9" y="694.3" width="8.4" height="102.7"/>
<path class="o" d="M590 698.3 L611.9 698.3"/>
<line class="o" x1="590" y1="698.3" x2="590" y2="793.3"/>
<line class="o" x1="590" y1="793.3" x2="611.9" y2="793.3"/>
<line class="t" x1="591.5" y1="699" x2="591.5" y2="792"/>
<line class="h" x1="616" y1="718" x2="616" y2="770"/>
<line class="t" x1="616" y1="770" x2="616" y2="797"/>
<line class="k" x1="611.9" y1="796.5" x2="620.3" y2="796.5"/>
<line class="o" x1="584" y1="735" x2="590" y2="735"/>
<line class="o" x1="584" y1="738.5" x2="590" y2="738.5"/>
<path class="o" d="M530.9 709.4 L530.9 680.7 L588.3 680.7 L588.3 709.4"/>
<path class="o" d="M545 680.7 L545 694.94 A22.3 22.3 0 0 1 574.2 694.94 L574.2 680.7"/>
<line class="k2" x1="545.4" y1="681.2" x2="573.8" y2="681.2"/>
<path class="o" d="M530.9 693.8 L537 693.8 A3.6 3.6 0 0 1 537 701 L530.9 701"/>
<path class="o" d="M588.3 693.8 L582.2 693.8 A3.6 3.6 0 0 0 582.2 701 L588.3 701"/>
<path class="o" d="M581.9 711.8 A22.3 22.3 0 0 1 537.3 711.8"/>
<path class="o" d="M530.9 709.4 L537.4 709.4"/>
<path class="t" d="M533 709.4 L533 712.8"/>
<path class="o" d="M588.3 709.4 L581.8 709.4"/>
<path class="t" d="M586.2 709.4 L586.2 712.8"/>
<line class="o" x1="525.8" y1="714.4" x2="525.8" y2="775.7"/>
<line class="o" x1="528.7" y1="709.4" x2="528.7" y2="771.8"/>
<line class="o" x1="531.9" y1="712.3" x2="531.9" y2="764.1"/>
<line class="o" x1="535" y1="712.3" x2="535" y2="764.1"/>
<line class="o" x1="541.3" y1="723.8" x2="541.3" y2="764.1"/>
<line class="o" x1="544.7" y1="727.8" x2="544.7" y2="787.2"/>
<path class="o" d="M548.5 730.8 L548.5 740.8 Q548.5 744.3 551.6 746.3"/>
<line class="o" x1="551" y1="764.2" x2="551" y2="785.8"/>
<line class="o" x1="590.5" y1="709.4" x2="590.5" y2="771.8"/>
<line class="o" x1="587.3" y1="712.3" x2="587.3" y2="764.1"/>
<line class="o" x1="584.2" y1="712.3" x2="584.2" y2="764.1"/>
<line class="o" x1="577.9" y1="723.8" x2="577.9" y2="764.1"/>
<line class="o" x1="574.5" y1="727.8" x2="574.5" y2="787.2"/>
<path class="o" d="M570.7 730.8 L570.7 740.8 Q570.7 744.3 567.6 746.3"/>
<line class="o" x1="568.2" y1="764.2" x2="568.2" y2="785.8"/>
<line class="o" x1="525.8" y1="714.4" x2="528.7" y2="714.4"/>
<circle class="o" cx="559.6" cy="757" r="11"/>
<path class="o" d="M544.7 793.2 L530.9 793.2 Q530.9 793.2 530.9 793.2 L530.9 765.3 Q530.9 764.1 532.1 764.1 L544.7 764.1"/>
<path class="o" d="M528.7 771.9 L537.1 771.9 A3.5 3.5 0 0 1 537.1 778.9 L528.7 778.9"/>
<line class="o" x1="525.8" y1="775.7" x2="528.7" y2="775.7"/>
<path class="o" d="M544.7 793.2 L548.1 790.6"/>
<path class="o" d="M574.5 793.2 L588.3 793.2 Q588.3 793.2 588.3 793.2 L588.3 765.3 Q588.3 764.1 587.1 764.1 L574.5 764.1"/>
<path class="o" d="M590.5 771.9 L582.1 771.9 A3.5 3.5 0 0 0 582.1 778.9 L590.5 778.9"/>
<line class="o" x1="593.4" y1="775.7" x2="590.5" y2="775.7"/>
<path class="o" d="M574.5 793.2 L571.1 790.6"/>
<rect class="o" x="547.9" y="773.8" width="3" height="15.8" rx="1.5"/>
<rect class="o" x="558.1" y="773.8" width="3" height="15.8" rx="1.5"/>
<rect class="o" x="568.3" y="773.8" width="3" height="15.8" rx="1.5"/>
<line class="o" x1="550.9" y1="785.8" x2="558.1" y2="785.8"/>
<line class="o" x1="561.1" y1="785.8" x2="568.3" y2="785.8"/>
<line class="o" x1="548.1" y1="790.6" x2="548.1" y2="775.8"/>
<line class="o" x1="571.1" y1="790.6" x2="571.1" y2="775.8"/>
<line class="h" x1="559.6" y1="655" x2="559.6" y2="800"/>
<line class="d" x1="559.6" y1="800" x2="559.6" y2="841"/>
<line class="c" x1="507.7" y1="745.7" x2="630" y2="745.7"/>
<line class="h" x1="537" y1="711.8" x2="582" y2="711.8"/>
<line class="d" x1="611.9" y1="797" x2="611.9" y2="832"/>
<line class="d" x1="616.1" y1="797" x2="616.1" y2="819"/>
<line class="d" x1="620.3" y1="797" x2="620.3" y2="841"/>
<line class="d" x1="609" y1="816.6" x2="628" y2="816.6"/>
<polygon class="ah" points="616.1,816.6 609.5,817.4 609.5,815.8"/>
<polygon class="ah" points="620.3,816.6 626.9,815.8 626.9,817.4"/>
<line class="d" x1="604" y1="829.8" x2="628" y2="829.8"/>
<polygon class="ah" points="611.9,829.8 605.3,830.6 605.3,829"/>
<polygon class="ah" points="620.3,829.8 626.9,829 626.9,830.6"/>
<line class="d" x1="559.6" y1="839.5" x2="620.3" y2="839.5"/>
<polygon class="ah" points="559.6,839.5 566.2,838.6 566.2,840.4"/>
<polygon class="ah" points="620.3,839.5 613.7,840.4 613.7,838.6"/>
<text class="dt" transform="translate(631 815.5) scale(0.93 1)" font-size="10.2" text-anchor="middle">3</text>
<text class="dt" transform="translate(631 828.4) scale(0.93 1)" font-size="10.2" text-anchor="middle">6</text>
<text class="dt" transform="translate(587 837) scale(0.93 1)" font-size="10.2" text-anchor="middle">45</text>
</g>
</svg></body></html>
